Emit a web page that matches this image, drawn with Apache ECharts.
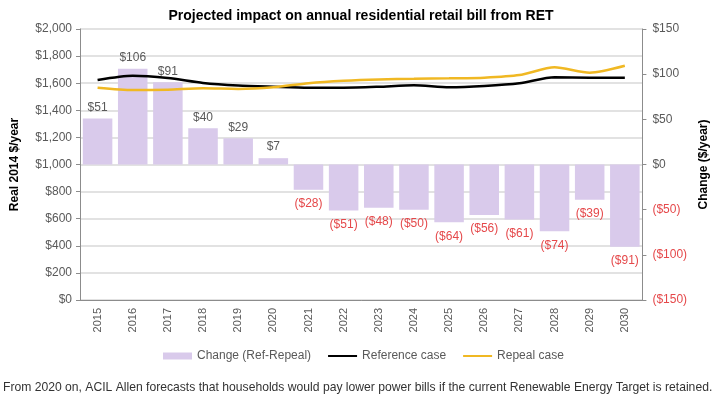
<!DOCTYPE html>
<html>
<head>
<meta charset="utf-8">
<script src="https://cdn.jsdelivr.net/npm/echarts@6/dist/echarts.min.js"></script>
<style>
	html, body { margin: 0; padding: 0; background: #fff; }
	#chart { width: 718px; height: 399px; }
</style>
</head>
<body>
<div id="chart"></div>
<script>
// values
let years = ['2015','2016','2017','2018','2019','2020','2021','2022','2023','2024','2025','2026','2027','2028','2029','2030']
let change = [51, 106, 91, 40, 29, 7, -28, -51, -48, -50, -64, -56, -61, -74, -39, -91]
let referenceCase = [1624, 1655, 1638, 1602, 1583, 1574, 1567, 1567, 1574, 1585, 1570, 1579, 1599, 1643, 1641, 1641]
let repealCase = [1567, 1549, 1552, 1562, 1558, 1570, 1600, 1618, 1628, 1632, 1636, 1641, 1660, 1717, 1678, 1729]

let font = '"Liberation Sans", Arial, sans-serif'
let grey = '#595959'
let red = '#e5484a'

function money(v){
	let s = '$' + Math.abs(v).toLocaleString('en-US')
	return v < 0 ? '(' + s + ')' : s
}

let myChart = echarts.init(document.getElementById('chart'))
let option = {
	animation: false,
	textStyle: { fontFamily: font },
	title: [
		{
			text: 'Projected impact on annual residential retail bill from RET',
			left: 361,
			textAlign: 'center',
			top: 9,
			padding: 0,
			textStyle: { fontSize: 14, fontWeight: 'bold', color: '#000', fontFamily: font }
		},
		{
			text: 'From 2020 on, ACIL Allen forecasts that households would pay lower power bills if the current Renewable Energy Target is retained.',
			left: 3,
			top: 382,
			padding: 0,
			textStyle: { fontSize: 12.15, fontWeight: 'normal', color: '#333', fontFamily: font }
		}
	],
	legend: {
		left: 163,
		top: 350,
		padding: 0,
		itemGap: 16,
		itemWidth: 29,
		itemHeight: 7,
		textStyle: { fontSize: 12, color: grey, fontFamily: font },
		data: [
			{ name: 'Change (Ref-Repeal)', icon: 'rect' },
			{ name: 'Reference case', itemStyle: { opacity: 0 } },
			{ name: 'Repeal case', itemStyle: { opacity: 0 } }
		]
	},
	grid: { left: 80, right: 72, top: 29, bottom: 99 },
	xAxis: {
		type: 'category',
		data: years,
		axisLine: { lineStyle: { color: '#8c8c8c' } },
		axisTick: { length: 5, lineStyle: { color: '#8c8c8c' } },
		axisLabel: { rotate: 90, fontSize: 11, color: grey, margin: 8 }
	},
	yAxis: [
		{
			type: 'value',
			min: 0,
			max: 2000,
			interval: 200,
			name: 'Real 2014 $/year',
			nameLocation: 'middle',
			nameGap: 59,
			nameTextStyle: { fontSize: 12, fontWeight: 'bold', color: '#000' },
			axisLine: { show: true, lineStyle: { color: '#8c8c8c' } },
			axisTick: { show: true, length: 4, lineStyle: { color: '#8c8c8c' } },
			axisLabel: { formatter: money, fontSize: 12, color: grey, margin: 8 },
			splitLine: { lineStyle: { color: '#d9d9d9', width: 1.5 } }
		},
		{
			type: 'value',
			min: -150,
			max: 150,
			interval: 50,
			position: 'right',
			name: 'Change ($/year)',
			nameLocation: 'middle',
			nameRotate: 90,
			nameGap: 54,
			nameTextStyle: { fontSize: 12, fontWeight: 'bold', color: '#000' },
			axisLine: { show: true, lineStyle: { color: '#8c8c8c' } },
			axisTick: { show: true, length: 4, lineStyle: { color: '#8c8c8c' } },
			axisLabel: {
				formatter: money,
				fontSize: 12,
				margin: 10,
				color: function(v){ return v < 0 ? red : grey }
			},
			splitLine: { show: false }
		}
	],
	series: [
		{
			name: 'Change (Ref-Repeal)',
			type: 'bar',
			yAxisIndex: 1,
			barCategoryGap: '16%',
			itemStyle: { color: '#d9caeb' },
			label: {
				show: true,
				position: 'top',
				distance: 5,
				fontSize: 12,
				color: grey,
				formatter: function(p){ return money(p.value) }
			},
			data: change.map(function(v){
				if (v >= 0) return v
				return { value: v, label: { position: 'bottom', distance: 8, color: red } }
			})
		},
		{
			name: 'Reference case',
			type: 'line',
			yAxisIndex: 0,
			symbol: 'none',
			smooth: 0.25,
			z: 3,
			lineStyle: { color: '#000', width: 2.5 },
			itemStyle: { color: '#000' },
			data: referenceCase
		},
		{
			name: 'Repeal case',
			type: 'line',
			yAxisIndex: 0,
			symbol: 'none',
			smooth: 0.25,
			z: 3,
			lineStyle: { color: '#f0b823', width: 2.5 },
			itemStyle: { color: '#f0b823' },
			data: repealCase
		}
	]
}
myChart.setOption(option)
</script>
</body>
</html>
